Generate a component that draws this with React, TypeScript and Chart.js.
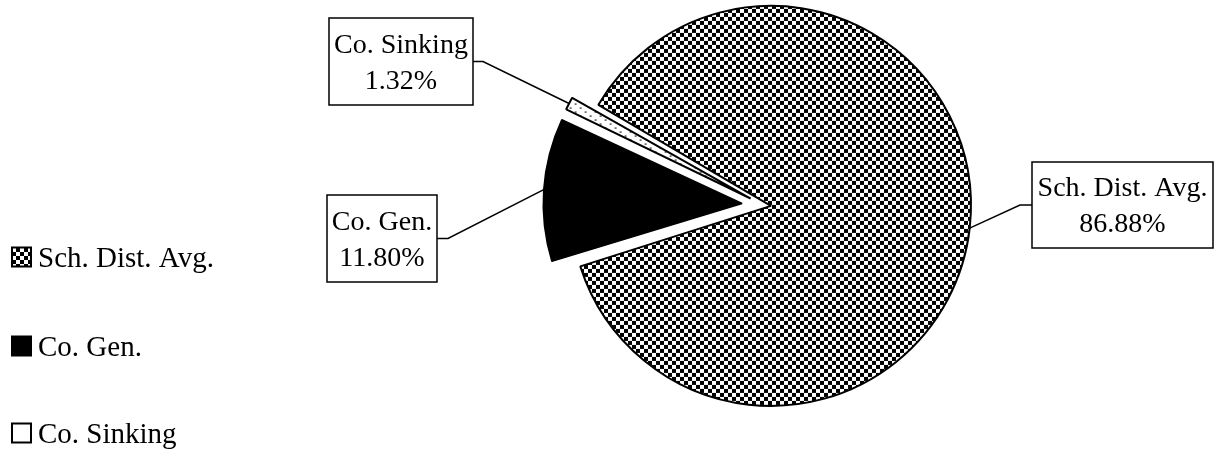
import React, { useEffect, useRef } from 'react';
import { Chart, registerables } from 'chart.js';

Chart.register(...registerables);

// ---- data ----
const CATEGORIES = ['Sch. Dist. Avg.', 'Co. Gen.', 'Co. Sinking'];
const SHARES = [86.88, 11.8, 1.32];

// ---- style / layout ----
const FONT = '"Liberation Serif", "Times New Roman", serif';
const W = 1214;
const H = 449;
const SLICE_OFFSETS = [32, 84, 56];
const SLICE_BORDERS = [2, 1.5, 2];

const LABEL_BOXES = [
  { x: 1032, y: 162, w: 181, h: 86, side: 'left', elbowX: 1020 },
  { x: 327, y: 195, w: 110, h: 87, side: 'right', elbowX: 448 },
  { x: 329, y: 18, w: 144, h: 87, side: 'right', elbowX: 483 },
];
const LEGEND_Y = [257, 346, 433];

function makeChecker(): CanvasPattern {
  const c = document.createElement('canvas');
  c.width = 8;
  c.height = 8;
  const g = c.getContext('2d')!;
  g.fillStyle = '#fff';
  g.fillRect(0, 0, 8, 8);
  g.fillStyle = '#000';
  g.fillRect(0, 0, 4, 4);
  g.fillRect(4, 4, 4, 4);
  return g.createPattern(c, 'repeat')!;
}

function makeDots(): CanvasPattern {
  const c = document.createElement('canvas');
  c.width = 10;
  c.height = 8;
  const g = c.getContext('2d')!;
  g.fillStyle = '#fff';
  g.fillRect(0, 0, 10, 8);
  g.fillStyle = '#000';
  g.fillRect(2, 2, 2, 1);
  g.fillRect(7, 6, 2, 1);
  return g.createPattern(c, 'repeat')!;
}

const labelPlugin = {
  id: 'boxLabels',
  afterDatasetsDraw(chart: any) {
    const ctx: CanvasRenderingContext2D = chart.ctx;
    const meta = chart.getDatasetMeta(0);
    const values: number[] = chart.data.datasets[0].data;
    const labels: string[] = chart.data.labels;
    meta.data.forEach((arc: any, i: number) => {
      const p = arc.getProps(['x', 'y', 'startAngle', 'endAngle', 'outerRadius', 'circumference'], true);
      const off = (arc.options.offset || 0) / 4;
      const fix = 1 - Math.sin(Math.min(Math.PI, p.circumference || 0));
      const mid = (p.startAngle + p.endAngle) / 2;
      const r = p.outerRadius + off + off * fix;
      const sx = p.x + Math.cos(mid) * r;
      const sy = p.y + Math.sin(mid) * r;
      const b = LABEL_BOXES[i];
      const ay = b.y + b.h / 2;
      const ax = b.side === 'left' ? b.x : b.x + b.w;
      ctx.save();
      ctx.strokeStyle = '#000';
      ctx.lineWidth = 1.5;
      ctx.beginPath();
      ctx.moveTo(sx, sy);
      ctx.lineTo(b.elbowX, ay);
      ctx.lineTo(ax, ay);
      ctx.stroke();
      ctx.fillStyle = '#fff';
      ctx.fillRect(b.x, b.y, b.w, b.h);
      ctx.lineWidth = 1.5;
      ctx.strokeRect(b.x, b.y, b.w, b.h);
      ctx.fillStyle = '#000';
      ctx.font = `28px ${FONT}`;
      ctx.textAlign = 'center';
      ctx.textBaseline = 'alphabetic';
      const cx = b.x + b.w / 2;
      const cy = b.y + b.h / 2;
      ctx.fillText(labels[i], cx, cy - 18 + 9);
      ctx.fillText(values[i].toFixed(2) + '%', cx, cy + 18 + 9);
      ctx.restore();
    });
  },
  afterDraw(chart: any) {
    const ctx: CanvasRenderingContext2D = chart.ctx;
    const ds = chart.data.datasets[0];
    const labels: string[] = chart.data.labels;
    ctx.save();
    labels.forEach((lab, i) => {
      const y = LEGEND_Y[i];
      const size = 19;
      ctx.fillStyle = i === 2 ? '#fff' : ds.backgroundColor[i];
      ctx.fillRect(12, y - size / 2, size, size);
      ctx.strokeStyle = '#000';
      ctx.lineWidth = 2;
      ctx.strokeRect(12, y - size / 2, size, size);
      ctx.fillStyle = '#000';
      ctx.font = `29px ${FONT}`;
      ctx.textAlign = 'left';
      ctx.textBaseline = 'alphabetic';
      ctx.fillText(lab, 38, y + 9.5);
    });
    ctx.restore();
  },
};

export default function App() {
  const ref = useRef<HTMLCanvasElement>(null);
  useEffect(() => {
    document.body.style.margin = '0';
    const canvas = ref.current!;
    const chart = new Chart(canvas, {
      type: 'pie',
      data: {
        labels: CATEGORIES,
        datasets: [
          {
            data: SHARES,
            backgroundColor: [makeChecker(), '#000000', makeDots()],
            borderColor: '#000000',
            borderWidth: SLICE_BORDERS,
            offset: SLICE_OFFSETS,
          } as any,
        ],
      },
      options: {
        animation: false,
        responsive: false,
        maintainAspectRatio: false,
        devicePixelRatio: 1,
        rotation: -60,
        radius: 192,
        events: [],
        layout: { padding: { left: 312, right: 0, top: 0, bottom: 39 } },
        plugins: {
          legend: { display: false },
          tooltip: { enabled: false },
          title: { display: false },
        },
      } as any,
      plugins: [labelPlugin],
    });
    return () => chart.destroy();
  }, []);
  return (
    <div style={{ width: W, height: H, background: '#fff' }}>
      <canvas ref={ref} width={W} height={H} style={{ display: 'block', width: W, height: H }} />
    </div>
  );
}
